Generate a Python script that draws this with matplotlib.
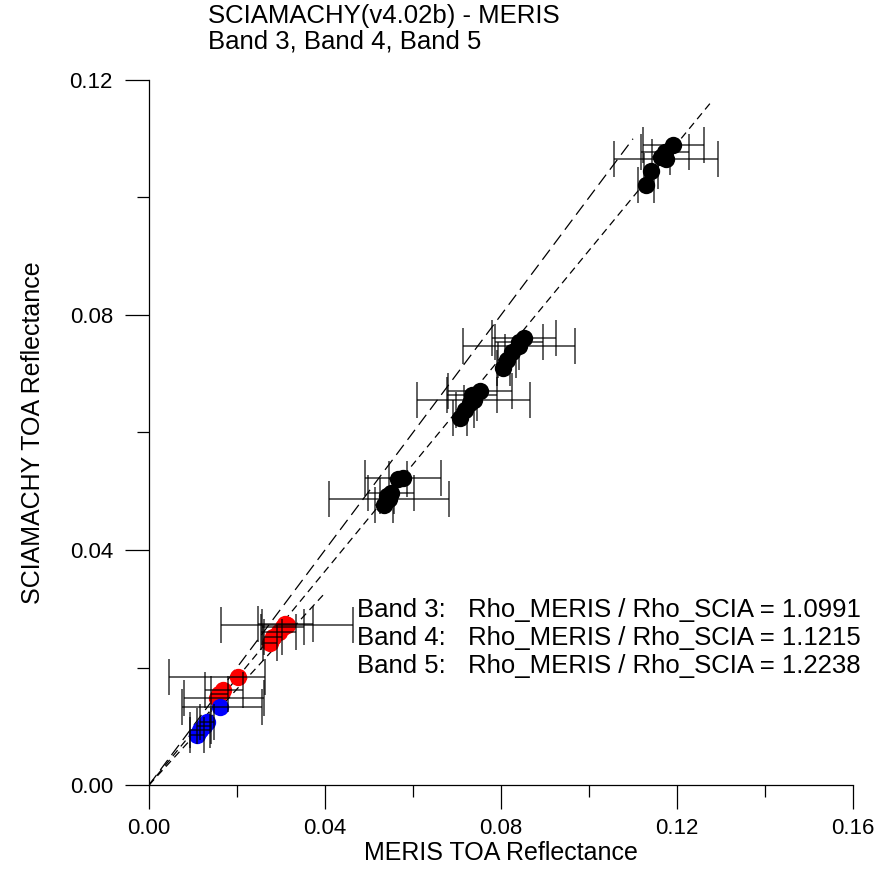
import matplotlib
matplotlib.use("Agg")
import matplotlib.pyplot as plt
import numpy as np

plt.rcParams['font.family'] = ['Liberation Sans', 'DejaVu Sans']

# ---- data ----
# Band 3 (black)
b3_x = [0.0534, 0.0545, 0.0550, 0.0541, 0.0566, 0.0577,
        0.0707, 0.0718, 0.0730, 0.0738, 0.0734, 0.0752,
        0.0805, 0.0814, 0.0825, 0.0841, 0.0841, 0.0852,
        0.1130, 0.1141, 0.1164, 0.1175, 0.1173, 0.1192]
b3_y = [0.0477, 0.0487, 0.0497, 0.0492, 0.0520, 0.0523,
        0.0625, 0.0638, 0.0650, 0.0655, 0.0664, 0.0671,
        0.0710, 0.0723, 0.0737, 0.0747, 0.0754, 0.0761,
        0.1021, 0.1045, 0.1069, 0.1066, 0.1077, 0.1089]
b3_xerr_lo = [0.0020, 0.0136, 0.0053, 0.0015, 0.0020, 0.0086,
              0.0015, 0.0020, 0.0015, 0.0128, 0.0057, 0.0073,
              0.0015, 0.0020, 0.0015, 0.0127, 0.0055, 0.0073,
              0.0018, 0.0015, 0.0020, 0.0118, 0.0055, 0.0069]
b3_xerr_hi = b3_xerr_lo

# Band 4 (red)
b4_x = [0.0275, 0.0282, 0.0295, 0.0305, 0.0314, 0.0310,
        0.0155, 0.0160, 0.0168, 0.0202]
b4_y = [0.0242, 0.0252, 0.0260, 0.0269, 0.0272, 0.0274,
        0.0148, 0.0155, 0.0162, 0.0184]
b4_xerr_lo = [0.0015, 0.0020, 0.0040, 0.0048, 0.0150, 0.0063,
              0.0075, 0.0020, 0.0041, 0.0157]
b4_xerr_hi = [0.0015, 0.0020, 0.0040, 0.0048, 0.0150, 0.0063,
              0.0107, 0.0020, 0.0045, 0.0061]

# Band 5 (blue)
b5_x = [0.0109, 0.0116, 0.0125, 0.0132, 0.0161]
b5_y = [0.0085, 0.0094, 0.0100, 0.0107, 0.0133]
b5_xerr_lo = [0.0015, 0.0023, 0.0015, 0.0015, 0.0086]
b5_xerr_hi = [0.0015, 0.0023, 0.0015, 0.0015, 0.0095]

ratios = [1.0991, 1.1215, 1.2238]
band_names = ["Band 3:", "Band 4:", "Band 5:"]
line_ends = [0.128, None, 0.040]   # x extent of fitted lines (Band 3, Band 5)

title_lines = ["SCIAMACHY(v4.02b) - MERIS", "Band 3, Band 4, Band 5"]
xticks = [0.00, 0.04, 0.08, 0.12, 0.16]
yticks = [0.00, 0.04, 0.08, 0.12]

# ---- figure ----
fig = plt.figure(figsize=(8.88, 8.74), dpi=100)
ax = fig.add_axes([149/888, 89/874, 704/888, 705/874])

ax.set_xlim(0, 0.16)
ax.set_ylim(0, 0.12)

# 1:1 line
ax.plot([0, 0.110], [0, 0.110], color='black', lw=0.9, dashes=(10, 5), zorder=2)
# Band 3 fit
ax.plot([0, line_ends[0]], [0, line_ends[0] / ratios[0]], color='black', lw=0.9,
        dashes=(6, 4), zorder=2)
# Band 5 fit
ax.plot([0, line_ends[2]], [0, line_ends[2] / ratios[2]], color='black', lw=0.9,
        dashes=(6, 4), zorder=2)

for xs, ys, lo, hi, col in [(b3_x, b3_y, b3_xerr_lo, b3_xerr_hi, 'black'),
                            (b4_x, b4_y, b4_xerr_lo, b4_xerr_hi, '#ff0000'),
                            (b5_x, b5_y, b5_xerr_lo, b5_xerr_hi, '#0000ff')]:
    ax.plot(xs, ys, 'o', color=col, markersize=12.5, markeredgewidth=0, zorder=3)
    ax.errorbar(xs, ys, xerr=[lo, hi], fmt='none', ecolor='black',
                elinewidth=1.1, capsize=13, capthick=1.1, zorder=4, alpha=0.8)

# spines / ticks
for s in ['top', 'right']:
    ax.spines[s].set_visible(False)
for s in ['left', 'bottom']:
    ax.spines[s].set_linewidth(0.9)

ax.set_xticks(xticks)
ax.set_yticks(yticks)
ax.set_xticklabels([f"{v:.2f}" for v in xticks])
ax.set_yticklabels([f"{v:.2f}" for v in yticks])
ax.set_xticks(np.arange(0.02, 0.16, 0.04), minor=True)
ax.set_yticks(np.arange(0.02, 0.12, 0.04), minor=True)
ax.tick_params(which='major', direction='out', length=17, width=0.9, labelsize=16)
ax.tick_params(axis='x', which='major', pad=7)
ax.tick_params(axis='y', which='major', pad=9)
ax.tick_params(which='minor', direction='out', length=8.5, width=0.9)

ax.set_xlabel("MERIS TOA Reflectance", fontsize=18, labelpad=1)
ax.set_ylabel("SCIAMACHY TOA Reflectance", fontsize=18, labelpad=18)

# title
fig.text(208/888, 1 - 4/874, "\n".join(title_lines), fontsize=18.5,
         ha='left', va='top', linespacing=1.1)

# ratio annotations
for i, (name, r) in enumerate(zip(band_names, ratios)):
    ybase = 1 - (617 + 28 * i) / 874
    fig.text(357/888, ybase, name, fontsize=18.5, ha='left', va='baseline')
    fig.text(468/888, ybase, f"Rho_MERIS / Rho_SCIA = {r:.4f}", fontsize=18.5,
             ha='left', va='baseline')

fig.savefig("out.png", dpi=100)
